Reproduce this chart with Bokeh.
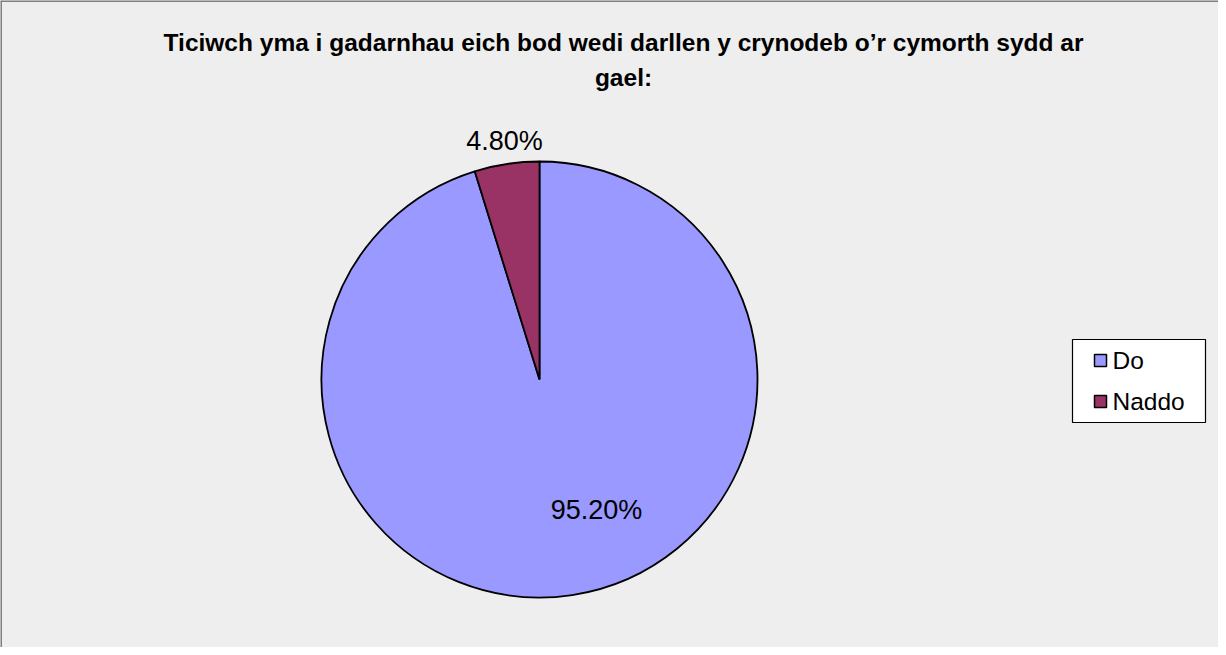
from bokeh.plotting import figure
from bokeh.models import Range1d, Span
from bokeh.core.properties import value
from bokeh.embed import file_html
from bokeh.resources import INLINE
import math

# ---- data ----
categories = ["Do", "Naddo"]
shares = [95.2, 4.8]
labels = ["95.20%", "4.80%"]
colors = ["#9999FF", "#993366"]
title_lines = ["Ticiwch yma i gadarnhau eich bod wedi darllen y crynodeb o\u2019r cymorth sydd ar", "gael:"]

W, H = 1218, 647
p = figure(width=W, height=H, output_backend="svg", toolbar_location=None,
           x_range=Range1d(0, W), y_range=Range1d(0, H), min_border=0)
p.axis.visible = False
p.grid.visible = False
p.outline_line_color = None
p.background_fill_color = "#EEEEEE"
p.border_fill_color = "#EEEEEE"

# chart border (left & top visible)
p.add_layout(Span(location=0.5, dimension="height", line_color="#7F7F7F", line_width=2))
p.add_layout(Span(location=H - 0.5, dimension="width", line_color="#7F7F7F", line_width=2))

# pie: clockwise from 12 o'clock
cx, cy, r = 539, 268, 218
total = sum(shares)
starts, ends = [], []
acc = 0.0
for s in shares:
    a0 = math.pi / 2 - 2 * math.pi * acc / total
    acc += s
    a1 = math.pi / 2 - 2 * math.pi * acc / total
    starts.append(a0)
    ends.append(a1)
p.wedge(x=[cx] * len(shares), y=[cy] * len(shares), radius=r,
        start_angle=starts, end_angle=ends, direction="clock",
        fill_color=colors, line_color="black", line_width=1.8)

# data labels
lab_x = [596, 504]
lab_y = [138, 507]
p.text(x=lab_x, y=lab_y, text=labels, text_align="center", text_baseline="middle",
       text_font=value("Liberation Sans"), text_font_size="27px", text_color="black")

# title
p.text(x=[623, 623], y=[605, 570], text=title_lines, text_align="center", text_baseline="middle",
       text_font=value("Liberation Sans"), text_font_style="bold", text_font_size="24.5px",
       text_color="black")

# legend (manual)
lx0, lx1, ly0, ly1 = 1072, 1205, 225, 308
p.quad(left=[lx0], right=[lx1], bottom=[ly0], top=[ly1], fill_color="white",
       line_color="black", line_width=1.2)
item_y = [287, 246]
p.scatter(x=[1100] * 2, y=item_y, marker="square", size=12, fill_color=colors,
          line_color="black", line_width=1.5)
p.text(x=[1112] * 2, y=item_y, text=categories, text_align="left", text_baseline="middle",
       text_font=value("Liberation Sans"), text_font_size="24.5px", text_color="black")

open("out.html", "w").write(file_html(p, INLINE))
